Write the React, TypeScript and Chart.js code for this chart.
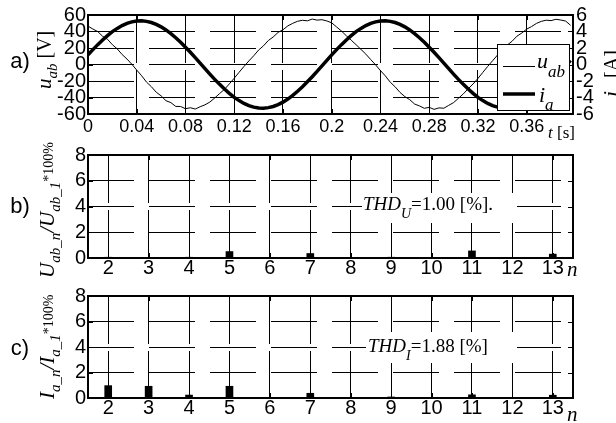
import React, { useEffect, useRef } from 'react';
import { Chart, registerables } from 'chart.js';

Chart.register(...registerables);

const W = 616;
const H = 423;

// ---- data ----
const sampleStep = 0.004; // s, sampling interval of the waveforms
const uAB = [
  46.5, 43.0, 39.9, 34.2, 30.6, 24.0, 18.9, 12.1, 6.6, 0.3,
  -6.8, -13.6, -21.3, -26.9, -33.6, -38.0, -43.9, -46.2, -50.8, -50.9,
  -53.6, -52.4, -54.0, -51.2, -48.9, -45.5, -40.6, -35.2, -30.1, -23.5,
  -16.6, -9.4, -2.4, 4.3, 10.6, 17.5, 22.6, 29.1, 33.4, 38.9,
  42.1, 46.8, 49.9, 52.4, 53.6, 52.9, 55.1, 53.8, 54.3, 52.8,
  50.5, 45.5, 40.6, 34.8, 29.5, 24.0, 18.3, 12.6, 6.0, -0.4,
  -7.4, -13.8, -21.4, -27.0, -33.8, -38.9, -42.6, -47.9, -50.2, -53.1,
  -51.9, -54.4, -52.6, -53.0, -49.5, -46.2, -41.0, -35.6, -29.4, -23.6,
  -16.9, -9.6, -2.3, 4.5, 11.4, 16.8, 23.5, 28.2, 34.3, 38.2,
  42.9, 46.0, 49.8, 52.3, 53.7, 53.2, 54.8, 53.9, 52.6, 47.5,
];
const iA = [
  1.16, 1.80, 2.41, 2.98, 3.50, 3.98, 4.38, 4.72, 4.99, 5.17,
  5.28, 5.30, 5.23, 5.09, 4.86, 4.56, 4.19, 3.75, 3.25, 2.70,
  2.10, 1.48, 0.83, 0.17, -0.50, -1.16, -1.80, -2.41, -2.98, -3.50,
  -3.98, -4.38, -4.72, -4.99, -5.17, -5.28, -5.30, -5.23, -5.09, -4.86,
  -4.56, -4.19, -3.75, -3.25, -2.70, -2.10, -1.48, -0.83, -0.17, 0.50,
  1.16, 1.80, 2.41, 2.98, 3.50, 3.98, 4.38, 4.72, 4.99, 5.17,
  5.28, 5.30, 5.23, 5.09, 4.86, 4.56, 4.19, 3.75, 3.25, 2.70,
  2.10, 1.48, 0.83, 0.17, -0.50, -1.16, -1.80, -2.41, -2.98, -3.50,
  -3.98, -4.38, -4.72, -4.99, -5.17, -5.28, -5.30, -5.23, -5.09, -4.86,
  -4.56, -4.19, -3.75, -3.25, -2.70, -2.10, -1.48, -0.83, -0.17, 0.50,
];
const timeS = uAB.map((_, k) => Number((k * sampleStep).toFixed(3)));

const harmonicN = ['2', '3', '4', '5', '6', '7', '8', '9', '10', '11', '12', '13'];
const uHarm = [0.06, 0.05, 0.06, 0.5, 0.05, 0.35, 0.05, 0.06, 0.05, 0.55, 0.05, 0.3];
const iHarm = [0.97, 0.92, 0.23, 0.92, 0.02, 0.37, 0.03, 0.08, 0.03, 0.25, 0.03, 0.22];
const thdU = '1.00';
const thdI = '1.88';

// ---- styling ----
const SANS = '"Liberation Sans", Arial, sans-serif';
const SERIF = '"Liberation Serif", "Times New Roman", serif';
const X_FONT_A = { family: SANS, size: 18 };
const X_FONT_N = { family: SANS, size: 20, lineHeight: 1.0 };
const Y_FONT = { family: SANS, size: 20 };
const PLOT_LEFT = 88;
const PLOT_RIGHT = 573;
const PA = { top: 13.7, bottom: 114 };
const PB = { top: 155, bottom: 258 };
const PC = { top: 296, bottom: 398 };

type Part = { t: string; f: string; dy?: number };
function drawParts(ctx: CanvasRenderingContext2D, parts: Part[], x: number, y: number, rot = 0) {
  ctx.save();
  ctx.translate(x, y);
  if (rot) ctx.rotate(rot);
  ctx.fillStyle = '#000';
  ctx.textAlign = 'left';
  ctx.textBaseline = 'alphabetic';
  let cx = 0;
  for (const p of parts) {
    ctx.font = p.f;
    ctx.fillText(p.t, cx, p.dy || 0);
    cx += ctx.measureText(p.t).width;
  }
  ctx.restore();
}

function frameAndTicks(chart: any, xId: string, yId: string) {
  const { ctx, chartArea: a } = chart;
  const xs = chart.scales[xId];
  const ys = chart.scales[yId];
  ctx.save();
  ctx.strokeStyle = '#000';
  ctx.lineWidth = 1;
  ctx.beginPath();
  xs.ticks.forEach((_: any, i: number) => {
    const px = Math.round(xs.getPixelForTick(i)) + 0.5;
    ctx.moveTo(px, a.bottom);
    ctx.lineTo(px, a.bottom - 5);
    ctx.moveTo(px, a.top);
    ctx.lineTo(px, a.top + 5);
  });
  ys.ticks.forEach((_: any, i: number) => {
    const py = Math.round(ys.getPixelForTick(i)) + 0.5;
    ctx.moveTo(a.left, py);
    ctx.lineTo(a.left + 5, py);
    ctx.moveTo(a.right, py);
    ctx.lineTo(a.right - 5, py);
  });
  ctx.stroke();
  ctx.lineWidth = 2;
  ctx.strokeRect(a.left, a.top, a.right - a.left, a.bottom - a.top);
  ctx.restore();
}

const italic = (s: number) => `italic ${s}px ${SERIF}`;
const roman = (s: number) => `${s}px ${SERIF}`;

function gridX(dash: number[]) {
  return {
    grid: { color: '#000', lineWidth: 1, drawTicks: false, offset: false },
    border: { display: false, dash },
  };
}

function sideLabel(ctx: CanvasRenderingContext2D, text: string, y: number) {
  ctx.save();
  ctx.fillStyle = '#000';
  ctx.font = `22px ${SANS}`;
  ctx.textAlign = 'center';
  ctx.fillText(text, 20, y);
  ctx.restore();
}

export default function App() {
  const refA = useRef<HTMLCanvasElement>(null);
  const refB = useRef<HTMLCanvasElement>(null);
  const refC = useRef<HTMLCanvasElement>(null);

  useEffect(() => {
    const charts: Chart[] = [];

    const decorA = {
      id: 'decorA',
      afterDatasetsDraw(chart: any) {
        const ctx = chart.ctx as CanvasRenderingContext2D;
        frameAndTicks(chart, 'x', 'y');
        // legend
        const l = 497, t = 44, r = 570, b = 111;
        ctx.save();
        ctx.fillStyle = '#fff';
        ctx.fillRect(l, t, r - l, b - t);
        ctx.strokeStyle = '#000';
        ctx.lineWidth = 1;
        ctx.strokeRect(l + 0.5, t + 0.5, r - l - 1, b - t - 1);
        ctx.beginPath();
        ctx.moveTo(503, 66.5);
        ctx.lineTo(535, 66.5);
        ctx.stroke();
        ctx.lineWidth = 3.5;
        ctx.beginPath();
        ctx.moveTo(503, 94);
        ctx.lineTo(535, 94);
        ctx.stroke();
        ctx.restore();
        drawParts(ctx, [{ t: 'u', f: italic(22) }, { t: 'ab', f: italic(17), dy: 9 }], 537, 68);
        drawParts(ctx, [{ t: 'i', f: italic(22) }, { t: 'a', f: italic(17), dy: 8 }], 539, 102);
        sideLabel(ctx, 'a)', 68);
        drawParts(ctx, [
          { t: 'u', f: italic(21) },
          { t: 'ab', f: italic(15), dy: 6 },
          { t: ' [V]', f: roman(20) },
        ], 51, 89, -Math.PI / 2);
        drawParts(ctx, [
          { t: 'i', f: italic(22) },
          { t: 'a', f: italic(16), dy: 7 },
          { t: ' [A]', f: roman(20) },
        ], 618, 97, -Math.PI / 2);
        drawParts(ctx, [{ t: 't', f: italic(17) }, { t: ' [s]', f: roman(17) }], 548, 138);
      },
    };

    const makeBar = (
      canvas: HTMLCanvasElement,
      box: { top: number; bottom: number },
      values: number[],
      decorate: (chart: any) => void,
      id: string,
    ) =>
      new Chart(canvas, {
        type: 'bar',
        data: {
          labels: harmonicN,
          datasets: [{ data: values, backgroundColor: '#000', borderWidth: 0, barThickness: 7 }],
        },
        options: {
          responsive: false,
          animation: false,
          events: [],
          layout: { padding: { top: box.top, left: 0, right: W - PLOT_RIGHT, bottom: 0 } },
          plugins: { legend: { display: false }, tooltip: { enabled: false } },
          scales: {
            x: {
              type: 'category',
              offset: true,
              afterFit: (s: any) => { s.height = H - box.bottom; },
              ticks: { font: X_FONT_N, color: '#000', padding: 0, autoSkip: false, maxRotation: 0 },
              ...gridX([48, 7]),
            },
            y: {
              min: 0,
              max: 8,
              afterFit: (s: any) => { s.width = PLOT_LEFT; },
              ticks: { stepSize: 2, font: Y_FONT, color: '#000', padding: 2, autoSkip: false },
              ...gridX([46, 15]),
            },
          },
        },
        plugins: [{ id, afterDatasetsDraw: decorate }],
      } as any);

    if (refA.current) {
      charts.push(
        new Chart(refA.current, {
          type: 'line',
          data: {
            datasets: [
              {
                label: 'u_ab',
                data: timeS.map((t, k) => ({ x: t, y: uAB[k] })),
                borderColor: '#000',
                borderWidth: 1,
                pointRadius: 0,
                yAxisID: 'y',
                tension: 0,
              },
              {
                label: 'i_a',
                data: timeS.map((t, k) => ({ x: t, y: iA[k] })),
                borderColor: '#000',
                borderWidth: 3.5,
                pointRadius: 0,
                yAxisID: 'y1',
                tension: 0,
              },
            ],
          },
          options: {
            responsive: false,
            animation: false,
            events: [],
            layout: { padding: { top: PA.top, left: 0, right: 0, bottom: 0 } },
            plugins: { legend: { display: false }, tooltip: { enabled: false } },
            scales: {
              x: {
                type: 'linear',
                min: 0,
                max: 0.398,
                afterFit: (s: any) => { s.height = H - PA.bottom; },
                ticks: {
                  stepSize: 0.04,
                  includeBounds: false,
                  font: X_FONT_A,
                  color: '#000',
                  padding: 2,
                  maxRotation: 0,
                  autoSkip: false,
                  callback: (v: any) => (Math.abs(Number(v)) < 1e-9 ? '0' : String(Number(Number(v).toFixed(2)))),
                },
                ...gridX([48, 7]),
              },
              y: {
                position: 'left',
                min: -60,
                max: 60,
                afterFit: (s: any) => { s.width = PLOT_LEFT; },
                ticks: { stepSize: 20, font: Y_FONT, color: '#000', padding: 2, autoSkip: false },
                ...gridX([46, 15]),
              },
              y1: {
                position: 'right',
                min: -6,
                max: 6,
                afterFit: (s: any) => { s.width = W - PLOT_RIGHT; },
                ticks: { stepSize: 2, font: Y_FONT, color: '#000', padding: 3, autoSkip: false },
                grid: { display: false, drawTicks: false },
                border: { display: false },
              },
            },
          },
          plugins: [decorA],
        } as any),
      );
    }

    if (refB.current) {
      charts.push(
        makeBar(refB.current, PB, uHarm, (chart: any) => {
          const ctx = chart.ctx as CanvasRenderingContext2D;
          ctx.save();
          ctx.fillStyle = '#fff';
          ctx.fillRect(362, 193, 155, 30);
          ctx.restore();
          frameAndTicks(chart, 'x', 'y');
          drawParts(ctx, [
            { t: 'THD', f: italic(19) },
            { t: 'U', f: italic(14), dy: 8 },
            { t: '=' + thdU + ' [%].', f: roman(19) },
          ], 363, 210);
          sideLabel(ctx, 'b)', 213);
          drawParts(ctx, [{ t: 'n', f: italic(21) }], 567, 276);
          drawParts(ctx, [
            { t: 'U', f: italic(21) },
            { t: 'ab_n', f: italic(15), dy: 6 },
            { t: '/', f: italic(21) },
            { t: 'U', f: italic(21) },
            { t: 'ab_1', f: italic(15), dy: 6 },
            { t: '*100%', f: roman(14), dy: -1 },
          ], 54, 278, -Math.PI / 2);
        }, 'decorB'),
      );
    }

    if (refC.current) {
      charts.push(
        makeBar(refC.current, PC, iHarm, (chart: any) => {
          const ctx = chart.ctx as CanvasRenderingContext2D;
          ctx.save();
          ctx.fillStyle = '#fff';
          ctx.fillRect(366, 332, 151, 31);
          ctx.restore();
          frameAndTicks(chart, 'x', 'y');
          drawParts(ctx, [
            { t: 'THD', f: italic(19) },
            { t: 'I', f: italic(14), dy: 8 },
            { t: '=' + thdI + ' [%]', f: roman(19) },
          ], 368, 352);
          sideLabel(ctx, 'c)', 355);
          drawParts(ctx, [{ t: 'n', f: italic(21) }], 567, 421);
          drawParts(ctx, [
            { t: 'I', f: italic(21) },
            { t: 'a_n', f: italic(15), dy: 6 },
            { t: '/', f: italic(21) },
            { t: 'I', f: italic(21) },
            { t: 'a_1', f: italic(15), dy: 6 },
            { t: '*100%', f: roman(14), dy: -1 },
          ], 54, 399, -Math.PI / 2);
        }, 'decorC'),
      );
    }

    return () => charts.forEach((c) => c.destroy());
  }, []);

  const cStyle: React.CSSProperties = { position: 'absolute', left: 0, top: 0, width: W, height: H };
  return (
    <div style={{ position: 'absolute', left: 0, top: 0, width: W, height: H, background: '#fff', overflow: 'hidden' }}>
      <canvas ref={refA} width={W} height={H} style={cStyle} />
      <canvas ref={refB} width={W} height={H} style={cStyle} />
      <canvas ref={refC} width={W} height={H} style={cStyle} />
    </div>
  );
}
